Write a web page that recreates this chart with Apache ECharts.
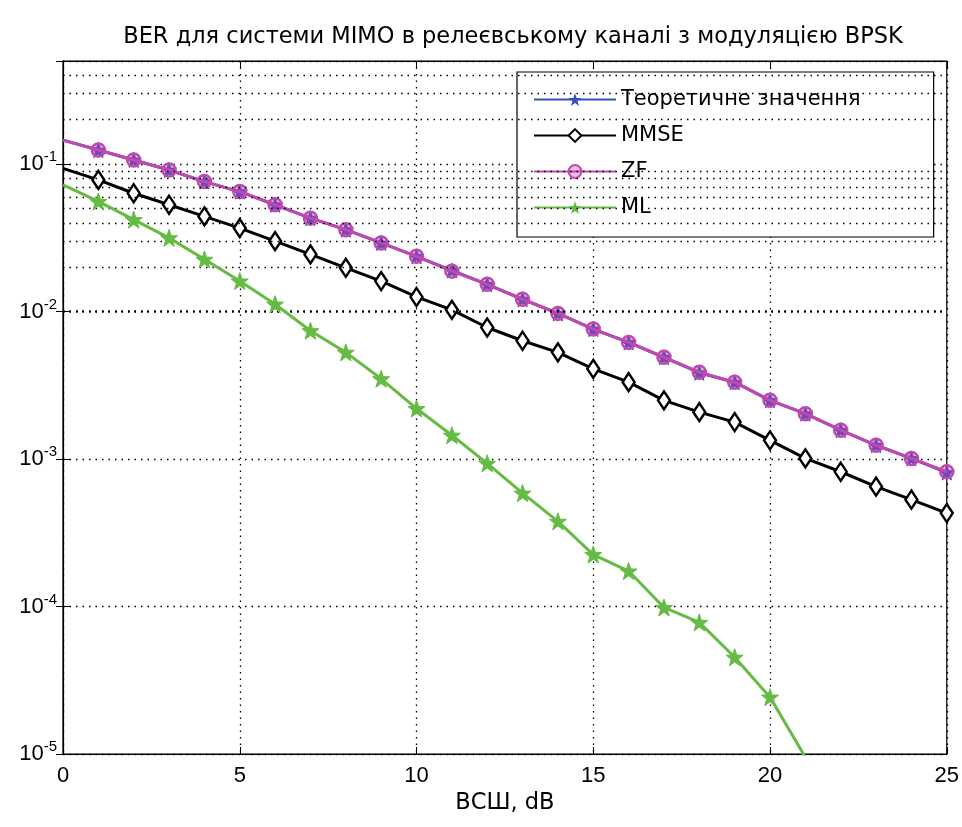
<!DOCTYPE html>
<html>
<head>
<meta charset="utf-8">
<script src="https://cdn.jsdelivr.net/npm/echarts@6/dist/echarts.min.js"></script>
<style>html,body{margin:0;padding:0;background:#fff}#c{width:962px;height:827px}</style>
</head>
<body>
<div id="c"></div>
<script>
const snr = [0,1,2,3,4,5,6,7,8,9,10,11,12,13,14,15,16,17,18,19,20,21,22,23,24,25];
const theory = [0.1454,0.1245,0.1066,0.0912,0.0761,0.0651,0.0530,0.0430,0.0359,0.0292,0.0237,0.0190,0.0153,0.01212,0.00972,0.00761,0.00618,0.00490,0.00385,0.00332,0.00250,0.00203,0.00157,0.00124,0.00101,0.00081];
const mmse = [0.0935,0.0781,0.0634,0.0530,0.0442,0.0368,0.0300,0.0244,0.0198,0.0161,0.01256,0.01027,0.00780,0.00634,0.00529,0.00409,0.00332,0.00250,0.00208,0.00178,0.00134,0.00101,0.00082,0.00065,0.00053,0.00043];
const zf = [0.1454,0.1245,0.1066,0.0912,0.0761,0.0651,0.0530,0.0430,0.0359,0.0292,0.0237,0.0188,0.0153,0.01212,0.00972,0.00761,0.00618,0.00490,0.00388,0.00332,0.00250,0.00203,0.00157,0.00124,0.00101,0.00082];
const ml = [0.0723,0.0558,0.0420,0.0316,0.0226,0.0161,0.01122,0.00741,0.00529,0.00350,0.00220,0.00145,0.000935,0.000587,0.000378,0.000225,0.000174,0.0000985,0.000078,0.0000453,0.0000243,0.0000095];
const names = ['Теоретичне значення','MMSE','ZF','ML'];
const minorGrid = [];
for (let e = -5; e <= -1; e++) for (let m = 2; m <= 9; m++) { const v = m * Math.pow(10, e); if (v < 0.5) minorGrid.push(v); }

const star = 'path://M0,-10L2.35,-3.24L9.51,-3.09L3.8,1.24L5.88,8.09L0,4L-5.88,8.09L-3.8,1.24L-9.51,-3.09L-2.35,-3.24Z';
function pts(arr){ return arr.map((v,i)=> i===0 ? {value:[snr[i],v], symbol:'none'} : {value:[snr[i],v]}); }

const font = 'Liberation Sans';
const chart = echarts.init(document.getElementById('c'));
chart.setOption({
  animation:false,
  backgroundColor:'#fff',
  title:{text:'BER для системи MIMO в релеєвському каналі з модуляцією BPSK', left:508, top:21, textAlign:'center',
    textStyle:{fontFamily:'DejaVu Sans', fontSize:22.5, fontWeight:'normal', color:'#000'}},
  grid:{left:63, right:14, top:61, bottom:73, show:true, borderColor:'#000', borderWidth:1.2, backgroundColor:'transparent'},
  legend:{orient:'vertical', left:517, top:72, data:names, backgroundColor:'#fff', borderColor:'#000', borderWidth:1.2,
    padding:[17,73,19,16], itemWidth:82, itemHeight:16, itemGap:15,
    textStyle:{fontFamily:'DejaVu Sans', fontSize:21, color:'#000'}},
  xAxis:[{type:'value', min:0, max:25, interval:5, position:'bottom',
    axisLine:{show:true, lineStyle:{color:'#000', width:1.2}},
    axisTick:{inside:true, length:7, lineStyle:{color:'#000'}},
    axisLabel:{fontFamily:font, fontSize:22, color:'#000', margin:11},
    splitLine:{show:true, lineStyle:{color:'#000', type:[1.5,5], width:1.3}},
    name:'ВСШ, dB', nameLocation:'middle', nameGap:38, nameTextStyle:{fontFamily:'DejaVu Sans', fontSize:22.5, color:'#000'}},
   {type:'value', min:0, max:25, interval:5, position:'top',
    axisLine:{show:true, lineStyle:{color:'#000'}}, axisTick:{inside:true, length:7, lineStyle:{color:'#000'}},
    axisLabel:{show:false}, splitLine:{show:false}}],
  yAxis:[{type:'log', logBase:10, min:1e-5, max:0.5, position:'left',
    axisLine:{show:true, lineStyle:{color:'#000', width:1.2}},
    axisTick:{inside:true, length:7, lineStyle:{color:'#000'}},
    splitLine:{show:true, lineStyle:{color:'#000', type:[1.5,5], width:1.3}},
    axisLabel:{margin:6, formatter:function(v){ const e=Math.log10(v); if(Math.abs(e-Math.round(e))>1e-6) return ''; return '{b|10}{s|'+Math.round(e)+'}'; },
      rich:{b:{fontFamily:font, fontSize:22, color:'#000'}, s:{fontFamily:font, fontSize:15, color:'#000', padding:[0,0,14,0]}}}},
   {type:'log', logBase:10, min:1e-5, max:0.5, position:'right',
    axisLine:{show:true, lineStyle:{color:'#000'}}, axisTick:{inside:true, length:7, lineStyle:{color:'#000'}},
    axisLabel:{show:false}, splitLine:{show:false}}],
  series:[
    {name:names[0], type:'line', data:pts(theory), clip:true, symbol:star, symbolSize:15,
      lineStyle:{color:'#3650b8', width:3}, itemStyle:{color:'#3650b8', borderColor:'#3650b8'}, z:2,
      markLine:{silent:true, symbol:'none', label:{show:false}, animation:false,
        lineStyle:{color:'#000', type:[1.5,5], width:1.3}, data:minorGrid.map(v=>({yAxis:v}))}},
    {name:names[1], type:'line', data:pts(mmse), clip:true, symbol:'diamond', symbolSize:[12,18],
      lineStyle:{color:'#000', width:3}, itemStyle:{color:'#fff', borderColor:'#000', borderWidth:2.5}, z:3},
    {name:names[2], type:'line', data:pts(zf), clip:true, symbol:'circle', symbolSize:13,
      lineStyle:{color:'#c248ae', width:3}, itemStyle:{color:'rgba(194,72,174,0.35)', borderColor:'#c248ae', borderWidth:2.5}, z:4},
    {name:names[3], type:'line', data:pts(ml), clip:true, symbol:star, symbolSize:17,
      lineStyle:{color:'#66bb44', width:3}, itemStyle:{color:'#66bb44', borderColor:'#66bb44'}, z:5}
  ]
});
</script>
</body>
</html>
